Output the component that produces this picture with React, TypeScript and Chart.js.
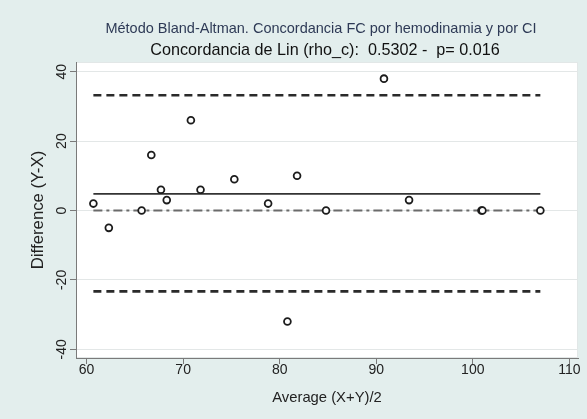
import React, { useEffect, useRef } from "react";
import { Chart, registerables } from "chart.js";

Chart.register(...registerables);

// ---- Data ----
const averages = [60.7, 62.3, 65.7, 66.7, 67.7, 68.3, 70.8, 71.8, 75.3, 78.8, 80.8, 81.8, 84.8, 90.8, 93.4, 100.9, 101.0, 107.0];
const differences = [2, -5, 0, 16, 6, 3, 26, 6, 9, 2, -32, 10, 0, 38, 3, 0, 0, 0];
const meanDifference = 4.8;
const upperLimit = 33.2;
const lowerLimit = -23.3;
const zeroLine = 0;
const xTicks = [60, 70, 80, 90, 100, 110];
const yTicks = [-40, -20, 0, 20, 40];
const titleText = "Método Bland-Altman. Concordancia FC por hemodinamia y por CI";
const subtitleText = "Concordancia de Lin (rho_c):  0.5302 -  p= 0.016";
const xTitle = "Average (X+Y)/2";
const yTitle = "Difference (Y-X)";

const FONT = "'Liberation Sans', Arial, Helvetica, sans-serif";

const bgPlugin = {
  id: "stataBackground",
  beforeDraw(chart: any) {
    const { ctx, chartArea, width, height } = chart;
    const { left, top, right, bottom } = chartArea;
    ctx.save();
    ctx.fillStyle = "#e3eeed";
    ctx.fillRect(0, 0, width, height);
    ctx.fillStyle = "#ffffff";
    ctx.fillRect(left, top, right - left, bottom - top);
    ctx.strokeStyle = "#e2e7e7";
    ctx.lineWidth = 1;
    ctx.strokeRect(left + 0.5, top + 0.5, right - left - 1, bottom - top - 1);
    ctx.restore();
  },
};

// Title lines, centred over the plot region (as in the Stata graph)
const titlePlugin = {
  id: "stataTitles",
  afterDraw(chart: any) {
    const { ctx, chartArea } = chart;
    const cx = (chartArea.left + chartArea.right) / 2;
    ctx.save();
    ctx.textAlign = "center";
    ctx.textBaseline = "middle";
    ctx.fillStyle = "#2e3a56";
    ctx.font = `14.5px ${FONT}`;
    ctx.fillText(titleText, cx - 6, 28.5);
    ctx.fillStyle = "#111111";
    ctx.font = `16.2px ${FONT}`;
    ctx.fillText(subtitleText, cx - 2, 51);
    ctx.restore();
  },
};

const yLabelPlugin = {
  id: "rotatedYLabels",
  afterDraw(chart: any) {
    const { ctx } = chart;
    const s = chart.scales.y;
    ctx.save();
    ctx.fillStyle = "#222222";
    ctx.font = `14px ${FONT}`;
    ctx.textAlign = "center";
    ctx.textBaseline = "middle";
    for (const v of yTicks) {
      const py = s.getPixelForValue(v);
      ctx.save();
      ctx.translate(62, py);
      ctx.rotate(-Math.PI / 2);
      ctx.fillText(String(v), 0, 0);
      ctx.restore();
    }
    ctx.restore();
  },
};

export default function App() {
  const canvasRef = useRef<HTMLCanvasElement | null>(null);

  useEffect(() => {
    const canvas = canvasRef.current;
    if (!canvas) return;
    const xMin = Math.min(...averages);
    const xMax = Math.max(...averages);
    const hLine = (y: number) => [
      { x: xMin, y },
      { x: xMax, y },
    ];

    const chart = new Chart(canvas, {
      type: "scatter",
      data: {
        datasets: [
          {
            label: "points",
            data: averages.map((x, i) => ({ x, y: differences[i] })),
            pointStyle: "circle",
            pointRadius: 3.4,
            pointBorderWidth: 1.8,
            borderColor: "#1c1c1c",
            backgroundColor: "#ffffff",
            showLine: false,
            order: 0,
          },
          {
            label: "mean",
            data: hLine(meanDifference),
            showLine: true,
            pointRadius: 0,
            borderColor: "#333333",
            borderWidth: 1.6,
            order: 1,
          },
          {
            label: "upper",
            data: hLine(upperLimit),
            showLine: true,
            pointRadius: 0,
            borderColor: "#2a2a2a",
            borderWidth: 2.6,
            borderDash: [8, 5],
            order: 1,
          },
          {
            label: "lower",
            data: hLine(lowerLimit),
            showLine: true,
            pointRadius: 0,
            borderColor: "#2a2a2a",
            borderWidth: 2.6,
            borderDash: [8, 5],
            order: 1,
          },
          {
            label: "zero",
            data: hLine(zeroLine),
            showLine: true,
            pointRadius: 0,
            borderColor: "#6a6a6a",
            borderWidth: 2,
            borderDash: [9, 4, 3, 4],
            order: 1,
          },
        ],
      },
      options: {
        animation: false,
        responsive: false,
        devicePixelRatio: 1,
        layout: { padding: { left: 0, right: 9, top: 62, bottom: 0 } },
        plugins: {
          legend: { display: false },
          tooltip: { enabled: false },
          title: { display: false },
          subtitle: { display: false },
        },
        scales: {
          x: {
            type: "linear",
            min: 58.9,
            max: 110.9,
            afterBuildTicks: (s: any) => {
              s.ticks = xTicks.map((v) => ({ value: v }));
            },
            afterFit: (s: any) => {
              s.height = 61;
            },
            grid: {
              drawOnChartArea: false,
              drawTicks: true,
              tickLength: 6,
              tickColor: "#7a7a7a",
            },
            border: { color: "#7a7a7a", width: 1 },
            ticks: {
              color: "#222222",
              font: { family: FONT, size: 14 },
              padding: -2,
              maxRotation: 0,
              minRotation: 0,
            },
            title: {
              display: true,
              text: xTitle,
              color: "#222222",
              font: { family: FONT, size: 14.8 },
              padding: { top: 0, bottom: 12.2 },
            },
          },
          y: {
            type: "linear",
            min: -42.5,
            max: 42.8,
            afterBuildTicks: (s: any) => {
              s.ticks = yTicks.map((v) => ({ value: v }));
            },
            afterFit: (s: any) => {
              s.width = 76;
            },
            grid: {
              color: "#e3e7e7",
              lineWidth: 1,
              drawTicks: true,
              tickLength: 6,
              tickColor: "#7a7a7a",
            },
            border: { color: "#7a7a7a", width: 1 },
            ticks: { display: false },
            title: {
              display: true,
              text: yTitle,
              color: "#222222",
              font: { family: FONT, size: 16.8 },
              padding: { top: 28, bottom: 0 },
            },
          },
        },
      },
      plugins: [bgPlugin, titlePlugin, yLabelPlugin],
    } as any);

    return () => chart.destroy();
  }, []);

  return (
    <div style={{ position: "absolute", left: 0, top: 0, width: 587, height: 419 }}>
      <canvas
        ref={canvasRef}
        width={587}
        height={419}
        style={{ display: "block", width: 587, height: 419 }}
      />
    </div>
  );
}
